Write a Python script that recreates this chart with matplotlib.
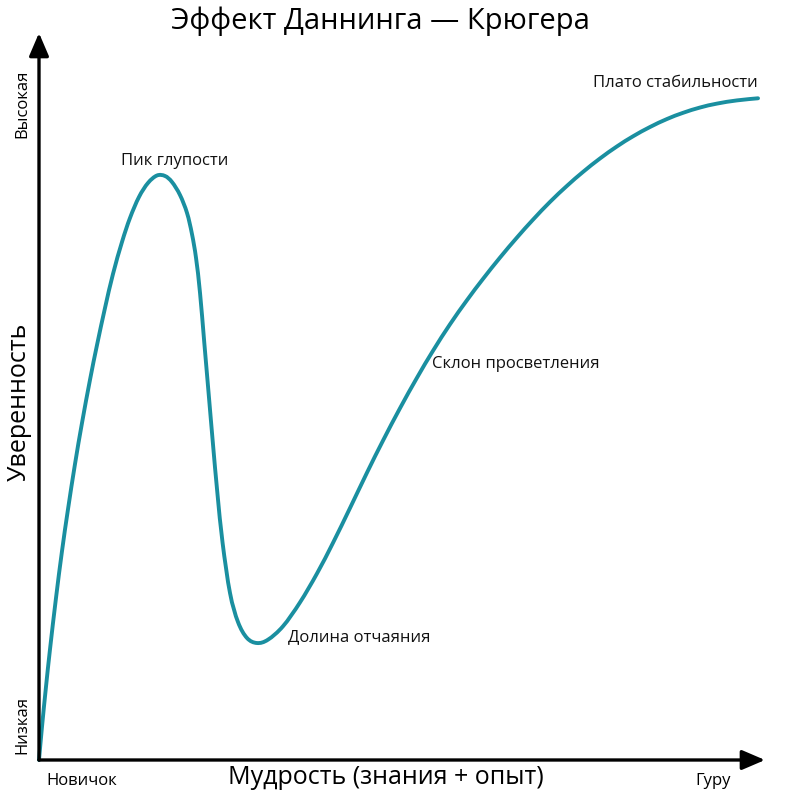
import matplotlib
matplotlib.use("Agg")
import matplotlib.pyplot as plt
import numpy as np
from matplotlib.patches import FancyArrowPatch, PathPatch
from matplotlib.path import Path

plt.rcParams['font.family'] = ['Open Sans', 'DejaVu Sans']

# Curve (knowledge 0..100, confidence 0..100)
knowledge = [0, 0.41, 0.96, 1.52, 2.34, 3.17, 4.0, 4.96, 5.92, 7.02, 7.99, 9.09,
             10.19, 11.43, 12.53, 13.77, 15.01, 16.25, 17.36, 18.32, 19.42, 20.39,
             21.07, 21.63, 22.18, 22.77, 23.36, 23.95, 24.57, 25.29, 26.31, 27.41,
             28.65, 30.03, 31.54, 33.61, 35.95, 38.29, 40.50, 42.84, 45.18, 47.38,
             49.72, 52.07, 54.27, 56.61, 58.95, 61.16, 63.50, 65.84, 68.04, 70.39,
             72.73, 74.93, 77.27, 79.61, 81.82, 84.16, 86.50, 88.71, 91.05, 93.39,
             96.14, 99.04]
confidence = [0, 4.54, 10.04, 15.27, 22.28, 28.75, 34.53, 40.72, 46.35, 52.27, 57.08,
              62.17, 66.85, 71.25, 74.55, 77.44, 79.37, 80.40, 80.33, 79.50, 77.72,
              75.24, 72.35, 69.05, 64.24, 57.36, 50.48, 43.60, 36.73, 29.85, 22.97,
              18.98, 16.78, 16.09, 16.55, 18.40, 21.68, 25.65, 29.88, 34.66, 39.53,
              43.93, 48.38, 52.59, 56.29, 59.93, 63.25, 66.18, 69.11, 71.87, 74.32,
              76.77, 78.98, 80.89, 82.74, 84.40, 85.79, 87.07, 88.17, 89.02, 89.75,
              90.29, 90.73, 91.02]

stage_labels = ["Пик глупости", "Долина отчаяния", "Склон просветления", "Плато стабильности"]
stage_pos = [(18.7, 82.4), (34.3, 16.9), (54.1, 54.5), (76.3, 93.1)]
stage_ha = ["center", "left", "left", "left"]

title = "Эффект Даннинга — Крюгера"
xlabel = "Мудрость (знания + опыт)"
ylabel = "Уверенность"
x_ticklabels = ["Новичок", "Гуру"]
y_ticklabels = ["Низкая", "Высокая"]

curve_color = "#1a8fa0"

fig = plt.figure(figsize=(8, 8), dpi=100)
ax = fig.add_axes([39/800, 40/800, 726/800, 727/800])
ax.set_xlim(0, 100)
ax.set_ylim(0, 100)
ax.axis('off')

# smooth curve through the read points (Catmull-Rom rendered as cubic Bezier)
P = np.column_stack([knowledge, confidence])
n = len(P)
verts = [P[0]]
codes = [Path.MOVETO]
for i in range(n - 1):
    p0 = P[i - 1] if i > 0 else P[i]
    p1 = P[i]
    p2 = P[i + 1]
    p3 = P[i + 2] if i + 2 < n else P[i + 1]
    c1 = p1 + (p2 - p0) / 6.0
    c2 = p2 - (p3 - p1) / 6.0
    verts += [c1, c2, p2]
    codes += [Path.CURVE4] * 3
curve = PathPatch(Path(verts, codes), facecolor='none', edgecolor=curve_color,
                  lw=2.8, capstyle='round', joinstyle='round', clip_on=False)
ax.add_patch(curve)

for start, end in [((0, 0), (100, 0)), ((0, 0), (0, 100))]:
    arr = FancyArrowPatch(start, end, arrowstyle='-|>,head_length=14,head_width=6',
                          mutation_scale=1, color='black', lw=2.4,
                          shrinkA=0, shrinkB=0, clip_on=False)
    ax.add_patch(arr)

for lab, (x, y), ha in zip(stage_labels, stage_pos, stage_ha):
    ax.text(x, y, lab, fontsize=12, ha=ha, va='center', color='#111111')

fig.text(380/800, 1 - 21/800, title, fontsize=21, ha='center', va='center')
fig.text(386/800, 1 - 777/800, xlabel, fontsize=18, ha='center', va='center')
fig.text(19/800, 1 - 402/800, ylabel, fontsize=18, ha='center', va='center', rotation=90)

fig.text(82/800, 1 - 781/800, x_ticklabels[0], fontsize=12, ha='center', va='center')
fig.text(713/800, 1 - 781/800, x_ticklabels[1], fontsize=12, ha='center', va='center')
fig.text(22/800, 1 - 725/800, y_ticklabels[0], fontsize=12, ha='center', va='center', rotation=90)
fig.text(22/800, 1 - 104/800, y_ticklabels[1], fontsize=12, ha='center', va='center', rotation=90)

fig.savefig("out.png", dpi=100, facecolor='white')
